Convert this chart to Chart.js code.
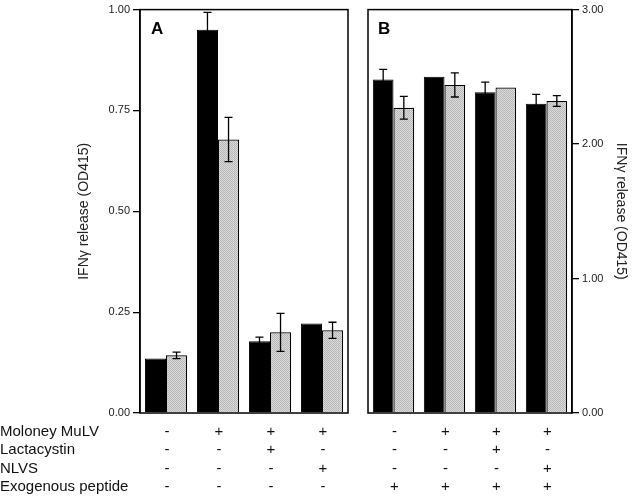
<!DOCTYPE html>
<html>
<head>
<meta charset="utf-8">
<script src="https://cdn.jsdelivr.net/npm/chart.js@4/dist/chart.umd.min.js"></script>
<style>
    html, body { margin: 0; padding: 0; background: #fff; }
    #wrap { position: relative; width: 640px; height: 496px; }
    #chartA { position: absolute; left: 0; top: 0; }
    #chartB { position: absolute; left: 360px; top: 0; }
</style>
</head>
<body>
<div id="wrap">
    <canvas id="chartA" width="360" height="496"></canvas>
    <canvas id="chartB" width="280" height="496"></canvas>
</div>
<script>
// Datos
const grupos = ['1', '2', '3', '4'];
const filas = ['Moloney MuLV', 'Lactacystin', 'NLVS', 'Exogenous peptide'];
const signosA = [['-', '+', '+', '+'], ['-', '-', '+', '-'], ['-', '-', '-', '+'], ['-', '-', '-', '-']];
const signosB = [['-', '+', '+', '+'], ['-', '-', '+', '-'], ['-', '-', '-', '+'], ['+', '+', '+', '+']];

const negroA = [0.135, 0.950, 0.178, 0.222];
const errNegroA = [0, 0.043, 0.010, 0];
const grisA = [0.143, 0.678, 0.200, 0.205];
const errGrisA = [0.008, 0.055, 0.047, 0.020];

const negroB = [2.48, 2.50, 2.385, 2.30];
const errNegroB = [0.075, 0, 0.075, 0.070];
const grisB = [2.27, 2.44, 2.42, 2.32];
const errGrisB = [0.085, 0.090, 0, 0.040];

const ticksA = [0, 0.25, 0.5, 0.75, 1.0];
const ticksB = [0, 1, 2, 3];

const FUENTE = "'Liberation Sans', Arial, sans-serif";
const titulo = 'IFNγ release (OD415)';

// Patrón punteado para las barras grises
function crearPatron() {
    const c = document.createElement('canvas');
    c.width = 2; c.height = 2;
    const g = c.getContext('2d');
    g.fillStyle = '#dadada';
    g.fillRect(0, 0, 2, 2);
    g.fillStyle = '#b8b8b8';
    g.fillRect(0, 0, 1, 1);
    g.fillRect(1, 1, 1, 1);
    return g.createPattern(c, 'repeat');
}
const gris = crearPatron();

// Barras de error
const pluginErrores = {
    id: 'errores',
    afterDatasetsDraw(chart) {
        const ctx = chart.ctx;
        const y = chart.scales.y;
        chart.data.datasets.forEach((ds, i) => {
            const meta = chart.getDatasetMeta(i);
            meta.data.forEach((bar, j) => {
                const e = ds.errores[j];
                if (!e) return;
                const v = ds.data[j];
                const yTop = y.getPixelForValue(v + e);
                const yBot = y.getPixelForValue(v - e);
                ctx.save();
                ctx.strokeStyle = '#000';
                ctx.lineWidth = 1.3;
                ctx.beginPath();
                ctx.moveTo(bar.x, yTop); ctx.lineTo(bar.x, yBot);
                ctx.moveTo(bar.x - 4, yTop); ctx.lineTo(bar.x + 4, yTop);
                ctx.moveTo(bar.x - 4, yBot); ctx.lineTo(bar.x + 4, yBot);
                ctx.stroke();
                ctx.restore();
            });
        });
    }
};

// Marco, letra del panel y tabla de +/-
const pluginMarco = {
    id: 'marco',
    afterDraw(chart, args, opts) {
        const ctx = chart.ctx;
        const a = chart.chartArea;
        ctx.save();
        ctx.strokeStyle = '#000';
        ctx.lineWidth = 1.5;
        ctx.strokeRect(a.left, a.top, a.right - a.left, a.bottom - a.top);

        ctx.fillStyle = '#000';
        ctx.font = "bold 17px " + FUENTE;
        ctx.textBaseline = 'alphabetic';
        ctx.textAlign = 'left';
        ctx.fillText(opts.letra, a.left + opts.letraX, 34);

        const x = chart.scales.x;
        const filasY = [432, 450, 469, 487];
        ctx.font = "15px " + FUENTE;
        ctx.fillStyle = '#111';
        ctx.textBaseline = 'middle';
        if (opts.etiquetas) {
            ctx.textAlign = 'left';
            opts.etiquetas.forEach((t, r) => ctx.fillText(t, 0, filasY[r]));
        }
        ctx.textAlign = 'center';
        opts.signos.forEach((fila, r) => {
            fila.forEach((s, j) => ctx.fillText(s, x.getPixelForValue(j) + 1, filasY[r]));
        });
        ctx.restore();
    }
};

function crearPanel(id, negro, errNegro, grisV, errGris, ticks, maxY, lado, padding, anchoEje, opcionesMarco) {
    return new Chart(document.getElementById(id), {
        type: 'bar',
        data: {
            labels: grupos,
            datasets: [
                { data: negro, errores: errNegro, backgroundColor: '#000', borderColor: '#000', borderWidth: 1 },
                { data: grisV, errores: errGris, backgroundColor: gris, borderColor: '#000', borderWidth: 1.2 }
            ]
        },
        options: {
            responsive: false,
            animation: false,
            categoryPercentage: 0.81,
            barPercentage: 1.0,
            layout: { padding: padding },
            plugins: {
                legend: { display: false },
                tooltip: { enabled: false },
                marco: opcionesMarco
            },
            scales: {
                x: { display: false },
                y: {
                    min: 0,
                    max: maxY,
                    position: lado,
                    afterBuildTicks: s => { s.ticks = ticks.map(v => ({ value: v })); },
                    afterFit: s => { s.width = anchoEje; },
                    ticks: {
                        color: '#222',
                        padding: 3,
                        font: { family: FUENTE, size: 11 },
                        callback: v => Number(v).toFixed(2)
                    },
                    grid: { drawOnChartArea: false, drawTicks: true, tickLength: 7, color: '#000', lineWidth: 1.3 },
                    border: { display: true, color: '#000', width: 1.5 },
                    title: { display: true, text: titulo, color: '#222', padding: 0, font: { family: FUENTE, size: 14 } }
                }
            }
        },
        plugins: [pluginErrores, pluginMarco]
    });
}

crearPanel('chartA', negroA, errNegroA, grisA, errGrisA, ticksA, 1.0, 'left',
    { left: 76, right: 12, top: 9, bottom: 83 }, 64,
    { letra: 'A', letraX: 11, signos: signosA, etiquetas: filas });

crearPanel('chartB', negroB, errNegroB, grisB, errGrisB, ticksB, 3.0, 'right',
    { left: 8, right: 11, top: 9, bottom: 83 }, 57,
    { letra: 'B', letraX: 10, signos: signosB, etiquetas: null });
</script>
</body>
</html>
